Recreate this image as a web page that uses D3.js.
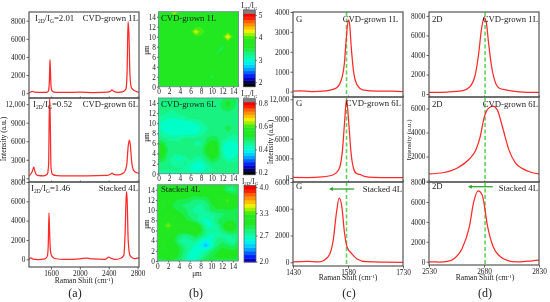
<!DOCTYPE html>
<html>
<head>
<meta charset="UTF-8">
<title>Raman spectra</title>
<script src="https://d3js.org/d3.v7.min.js"></script>
<style>
    html, body { margin: 0; padding: 0; background: #fff; }
    svg { display: block; font-family: "Liberation Serif", serif; filter: blur(0.3px); }
    text { fill: #222; }
    .axis path { display: none; }
    .axis line { stroke: #444; stroke-width: 0.8; }
    .axis text { font-size: 7.3px; fill: #222; font-family: "Liberation Serif", serif; }
</style>
</head>
<body>
<svg id="fig" width="550" height="302"></svg>
<script>
// panel (a), full spectra
const fullShift1 = [1295,1320,1340,1370,1450,1540,1565,1578,1586,1592,1600,1612,1640,1750,2000,2200,2380,2425,2445,2470,2530,2600,2640,2655,2668,2680,2695,2715,2760,2800,2820];
const fullInt1 = [60,130,200,110,80,90,260,1500,3700,2600,800,280,120,80,110,70,120,220,360,200,100,180,500,2400,7900,6600,2000,600,260,130,90];
const fullShift2 = [1295,1320,1340,1360,1380,1410,1500,1550,1568,1574,1582,1590,1600,1620,1680,1800,2100,2380,2430,2445,2470,2530,2610,2650,2670,2686,2700,2720,2750,2790,2820];
const fullInt2 = [350,700,1100,1800,1000,500,420,700,2500,9000,13000,9000,1800,650,450,420,420,500,720,850,650,550,900,2200,5200,6200,5400,2500,1200,900,800];
const fullShift3 = [1295,1320,1350,1420,1520,1550,1562,1572,1580,1592,1610,1650,1800,2000,2100,2180,2350,2400,2430,2480,2560,2610,2628,2645,2655,2670,2695,2750,2800,2820];
const fullInt3 = [-20,150,20,-30,40,350,1500,4800,3000,900,350,80,-20,50,120,30,0,220,120,-10,80,400,2800,7000,6300,2000,400,60,120,160];

// panel (c), G band
const gShift1 = [1430,1450,1480,1520,1545,1560,1570,1575,1581,1584,1589,1596,1606,1620,1660,1700,1730];
const gInt1 = [30,40,0,40,150,500,1400,2600,3600,3450,2200,900,300,90,20,30,0];
const gShift2 = [1430,1470,1510,1540,1555,1565,1570,1576,1582,1588,1595,1603,1612,1625,1650,1690,1730];
const gInt2 = [100,80,180,500,1300,4300,8000,12000,8500,4000,1500,700,560,260,100,60,70];
const gShift3 = [1430,1470,1500,1515,1530,1540,1548,1556,1563,1570,1578,1590,1605,1630,1680,1730];
const gInt3 = [20,60,30,150,600,1700,3600,4800,4200,2300,1100,650,250,40,10,0];

// panel (d), 2D band
const dShift1 = [2530,2580,2620,2640,2655,2665,2673,2680,2686,2692,2700,2710,2722,2740,2770,2800,2830];
const dInt1 = [170,210,320,700,1800,4000,6600,7800,7400,5400,3000,1300,600,420,250,170,170];
const dShift2 = [2530,2570,2610,2640,2658,2670,2680,2692,2704,2716,2730,2748,2765,2785,2810,2830];
const dInt2 = [560,680,1100,1800,2560,3700,5200,6000,6200,5900,4500,2560,1500,1000,680,560];
const dShift3 = [2530,2560,2580,2600,2620,2640,2652,2664,2675,2690,2705,2725,2742,2770,2800,2830];
const dInt3 = [-20,-30,30,350,1300,3500,6000,7100,6700,3500,1500,500,150,-20,60,170];

// shared y ticks
const yTicksA1 = [0, 2000, 4000, 6000, 8000];
const yTicksMid = [0, 3000, 6000, 9000, 12000];
const yTicksA3 = [0, 2000, 4000, 6000, 8000];
const yTicksC1 = [0, 1000, 2000, 3000, 4000];
const yTicksC3 = [0, 2000, 4000, 6000];
const yTicksD2 = [0, 2000, 4000, 6000];
const xTicksA = [1600, 2000, 2400, 2800];
const xTicksC = [1430, 1580, 1730];
const xTicksD = [2530, 2680, 2830];
const mapTicks = [0, 2, 4, 6, 8, 10, 12, 14];

// panel (b), ratio maps, rows from y=15 to y=0, values x100
const map1 = [
    [390,390,392,425,392,390,390,390,390,390,390,390,390,390,390,390],
    [390,390,390,392,390,390,390,390,390,390,390,390,390,390,382,390],
    [390,390,390,390,390,390,390,390,390,390,390,390,390,390,390,390],
    [390,390,390,390,390,390,390,392,392,390,390,390,390,390,390,390],
    [390,390,390,390,390,390,392,428,400,390,390,390,390,392,390,390],
    [390,390,390,390,390,390,390,391,391,390,390,390,392,438,394,390],
    [390,390,390,390,390,390,390,390,390,390,390,390,390,392,390,390],
    [390,390,390,390,390,390,390,390,390,390,390,382,340,380,390,390],
    [390,390,390,390,390,390,390,390,390,390,390,350,355,385,390,390],
    [390,390,390,390,390,390,390,390,390,390,386,350,375,390,390,390],
    [390,390,390,390,390,390,390,390,390,390,388,368,388,390,390,390],
    [390,390,390,386,390,390,390,390,390,390,390,390,390,390,390,390],
    [390,390,390,390,390,390,390,390,390,384,372,382,390,390,390,390],
    [390,390,390,390,390,390,390,390,390,374,335,374,390,390,390,390],
    [390,390,365,386,390,390,390,390,390,386,382,386,390,390,390,390],
    [390,390,390,390,390,390,390,390,390,390,390,390,390,390,390,390]
];
const map2 = [
    [46,46,46,46,46,46,46,46,46,46,46,46,47,50,50,47],
    [46,46,46,46,46,46,46,46,46,46,46,46,50,52,50,47],
    [46,46,46,46,46,46,46,46,46,46,46,46,49,51,49,46],
    [46,46,45,45,46,46,46,46,46,46,46,46,47,47,46,46],
    [45,44,43,43,44,45,46,46,46,46,46,46,46,46,46,46],
    [44,41,40,40,40,40,41,43,45,46,46,46,46,47,46,46],
    [44,41,40,40,40,40,40,41,43,45,46,46,47,51,47,46],
    [45,43,42,41,41,41,41,42,44,46,47,47,47,47,46,46],
    [47,46,45,45,45,46,46,46,46,48,50,49,46,45,44,45],
    [52,50,46,46,46,46,46,45,45,50,53,52,44,41,41,43],
    [55,53,47,46,46,46,46,46,47,52,55,53,43,40,40,42],
    [55,53,46,46,46,46,46,46,47,51,55,53,44,40,40,43],
    [53,50,46,43,42,45,46,45,45,48,52,50,46,42,43,45],
    [47,47,46,44,44,46,44,41,41,45,48,47,46,46,46,46],
    [46,46,46,46,46,45,42,40,40,43,45,46,46,46,46,46],
    [45,44,43,44,45,46,45,44,44,46,46,46,46,46,46,46]
];
const map3 = [
    [300,300,305,305,305,305,305,305,310,315,320,315,305,295,290,295],
    [300,295,300,305,305,310,310,310,310,305,310,310,300,285,280,290],
    [300,305,305,310,310,305,305,300,305,300,300,300,305,305,300,295],
    [310,310,305,300,295,295,290,285,285,290,300,305,320,330,320,305],
    [315,315,305,295,290,285,285,280,275,280,295,305,315,325,315,300],
    [310,310,305,300,295,290,285,270,270,280,290,295,290,295,295,290],
    [305,305,310,310,305,295,285,280,275,270,270,280,285,290,290,290],
    [310,315,320,310,305,300,295,285,270,265,270,285,295,295,295,290],
    [315,320,340,320,310,310,305,310,295,270,265,275,295,315,315,290],
    [310,315,322,310,305,310,315,320,300,280,270,270,285,300,300,290],
    [305,310,310,305,290,280,285,300,290,275,265,270,275,275,280,285],
    [310,310,305,300,280,270,275,280,265,255,265,280,285,275,270,285],
    [310,310,305,305,295,280,270,265,255,240,258,285,295,290,285,295],
    [310,310,305,305,300,285,270,265,265,270,285,295,300,300,300,300],
    [300,300,305,305,295,280,260,260,270,285,295,300,300,300,300,300],
    [295,295,295,295,290,280,265,270,285,295,300,295,295,295,295,295]
];

// colour bar, low to high
const palette = ["#000000","#000050","#0000c0","#0020ff","#0060ff","#00a0ff","#00d0ff","#00f0f0","#00ffc8","#10f8a0","#18f280","#18ee50",
    "#20e820","#22e822","#22e822","#48ec10","#a0f000","#f0f000","#ffc000","#ff9000","#ff6000","#ff2000","#f00000","#808080"];
const barTicks1 = [2, 3, 4, 5];
const barTicks2 = [0.2, 0.4, 0.6, 0.8];
const barTicks3 = [2.0, 2.7, 3.3, 4.0];

const svg = d3.select("#fig");
const red = "#ff2a2a";
const green = "#5fd35f";
const frameColor = "#555";
let clipCount = 0;

function addClip(x, y, w, h) {
    const id = "clip" + (clipCount++);
    svg.append("clipPath").attr("id", id).append("rect")
        .attr("x", x).attr("y", y).attr("width", w).attr("height", h);
    return id;
}

function label(txt, x, y, size, anchor) {
    return svg.append("text").attr("x", x).attr("y", y)
        .attr("font-size", size).attr("text-anchor", anchor || "start").text(txt);
}

function ratioLabel(value, x, y, size) {
    const t = svg.append("text").attr("x", x).attr("y", y).attr("font-size", size);
    t.append("tspan").text("I");
    t.append("tspan").attr("dy", size * 0.25).attr("font-size", size * 0.62).text("2D");
    t.append("tspan").attr("dy", -size * 0.25).text("/I");
    t.append("tspan").attr("dy", size * 0.25).attr("font-size", size * 0.62).text("G");
    t.append("tspan").attr("dy", -size * 0.25).text(value);
}

function ramanLabel(x, y) {
    const t = svg.append("text").attr("x", x).attr("y", y).attr("font-size", 7.6).attr("text-anchor", "middle");
    t.append("tspan").text("Raman Shift (cm");
    t.append("tspan").attr("dy", -2.5).attr("font-size", 5).text("-1");
    t.append("tspan").attr("dy", 2.5).text(")");
}

function yLabel(x, y, txt, size) {
    svg.append("text").attr("transform", `translate(${x},${y}) rotate(-90)`)
        .attr("font-size", size || 7.6).attr("text-anchor", "middle").text(txt);
}

function spectrum(p) {
    const x = d3.scaleLinear().domain(p.xDomain).range([p.left, p.right]);
    const y = d3.scaleLinear().domain(p.yDomain).range([p.bottom, p.top]);
    const clip = addClip(p.left, p.top, p.right - p.left, p.bottom - p.top);

    if (p.marker != null) {
        svg.append("line")
            .attr("x1", x(p.marker)).attr("x2", x(p.marker))
            .attr("y1", p.top).attr("y2", p.bottom)
            .attr("stroke", green).attr("stroke-width", 1.6).attr("stroke-dasharray", "4,2.5");
    }

    const line = d3.line().x(d => x(d[0])).y(d => y(d[1])).curve(d3.curveMonotoneX);
    svg.append("path").datum(d3.zip(p.shift, p.values))
        .attr("clip-path", `url(#${clip})`)
        .attr("fill", "none").attr("stroke", red).attr("stroke-width", 1.25)
        .attr("d", line);

    svg.append("rect")
        .attr("x", p.left).attr("y", p.top)
        .attr("width", p.right - p.left).attr("height", p.bottom - p.top)
        .attr("fill", "none").attr("stroke", frameColor).attr("stroke-width", 1.2);

    svg.append("g").attr("class", "axis").attr("transform", `translate(${p.left},0)`)
        .call(d3.axisLeft(y).tickValues(p.yTicks).tickSize(2.5).tickPadding(1)
            .tickFormat(d => d >= 10000 ? d3.format(",")(d) : d));

    const xAxis = d3.axisBottom(x).tickValues(p.xTicks).tickSize(p.xLabels ? 2.5 : -1.5).tickPadding(1.5)
        .tickFormat(d3.format("d"));
    if (!p.xLabels) xAxis.tickFormat("");
    svg.append("g").attr("class", "axis").attr("transform", `translate(0,${p.bottom})`).call(xAxis);

    if (p.arrow) {
        const ay = p.arrow[2];
        svg.append("line").attr("x1", x(p.arrow[0])).attr("x2", x(p.arrow[1]) + 3)
            .attr("y1", ay).attr("y2", ay).attr("stroke", "#2fa52f").attr("stroke-width", 1.3);
        svg.append("path")
            .attr("d", d3.line()([[x(p.arrow[1]), ay], [x(p.arrow[1]) + 4, ay - 2], [x(p.arrow[1]) + 4, ay + 2]]))
            .attr("fill", "#2fa52f");
    }
}

function heatmap(m) {
    const x = d3.scaleLinear().domain([0, 15]).range([m.left, m.right]);
    const y = d3.scaleLinear().domain([0, 15]).range([m.bottom, m.top]);
    const values = m.rows.flat().map(d => d / m.unit);
    const colors = palette.slice(m.from, m.to);
    const bands = d3.range(colors.length).map(i => m.vmin + (m.vmax - m.vmin) * i / colors.length);
    bands[0] = -1000;

    const contours = d3.contours().size([16, 16]).thresholds(bands)(values);
    const project = d3.geoTransform({
        point: function(gx, gy) { this.stream.point(x(gx - 0.5), y(15 - (gy - 0.5))); }
    });
    const path = d3.geoPath(project);
    const clip = addClip(m.left, m.top, m.right - m.left, m.bottom - m.top);
    svg.append("g").attr("clip-path", `url(#${clip})`)
        .append("g").style("filter", "blur(0.7px)")
        .selectAll("path")
        .data(contours).join("path")
        .attr("d", path)
        .attr("fill", (d, i) => colors[i]);

    svg.append("rect")
        .attr("x", m.left).attr("y", m.top)
        .attr("width", m.right - m.left).attr("height", m.bottom - m.top)
        .attr("fill", "none").attr("stroke", "#6f9494").attr("stroke-width", 1);

    const ax = d3.axisBottom(x).tickValues(mapTicks).tickSize(1.5).tickPadding(1);
    const ay = d3.axisLeft(y).tickValues(mapTicks).tickSize(1.5).tickPadding(1);
    svg.append("g").attr("class", "axis").attr("transform", `translate(0,${m.bottom})`).call(ax);
    svg.append("g").attr("class", "axis").attr("transform", `translate(${m.left},0)`).call(ay);

    // colour bar
    const by = d3.scaleLinear().domain([m.vmin, m.vmax]).range([m.barBottom, m.barTop]);
    const step = (m.vmax - m.vmin) / colors.length;
    svg.append("g").selectAll("rect")
        .data(colors).join("rect")
        .attr("x", m.barX).attr("width", 12)
        .attr("y", (d, i) => by(m.vmin + step * (i + 1)))
        .attr("height", (m.barBottom - m.barTop) / colors.length + 0.4)
        .attr("fill", d => d);
    svg.append("rect").attr("x", m.barX).attr("y", m.barTop).attr("width", 12)
        .attr("height", m.barBottom - m.barTop)
        .attr("fill", "none").attr("stroke", "#555").attr("stroke-width", 0.7);
    svg.append("g").attr("class", "axis").attr("transform", `translate(${m.barX + 12},0)`)
        .call(d3.axisRight(by).tickValues(m.barTicks).tickSize(1.5).tickPadding(2)
            .tickFormat(m.barFormat));

    const t = svg.append("text").attr("x", m.barX + 6).attr("y", m.titleY).attr("font-size", 7.3).attr("text-anchor", "middle");
    t.append("tspan").text("I");
    t.append("tspan").attr("dy", 1.8).attr("font-size", 4.8).text("2D");
    t.append("tspan").attr("dy", -1.8).text("/I");
    t.append("tspan").attr("dy", 1.8).attr("font-size", 4.8).text("G");
}

// (a)
const aX = [1295, 2820];
spectrum({ left: 29, right: 139, top: 12, bottom: 98, xDomain: aX, yDomain: [-530, 8960], shift: fullShift1, values: fullInt1, yTicks: yTicksA1, xTicks: xTicksA });
spectrum({ left: 29, right: 139, top: 98, bottom: 182, xDomain: aX, yDomain: [-590, 13000], shift: fullShift2, values: fullInt2, yTicks: yTicksMid, xTicks: xTicksA });
spectrum({ left: 29, right: 139, top: 182, bottom: 267, xDomain: aX, yDomain: [-800, 8000], shift: fullShift3, values: fullInt3, yTicks: yTicksA3, xTicks: xTicksA, xLabels: true });
ratioLabel("=2.01", 35, 21, 8.8);
ratioLabel("=0.52", 33, 107, 8.8);
ratioLabel("=1.46", 31, 191, 8.8);
label("CVD-grown 1L", 138, 21, 8.7, "end");
label("CVD-grown 6L", 138, 107, 8.7, "end");
label("Stacked 4L", 138, 191, 8.7, "end");
yLabel(6, 139, "Intensity (a.u.)");
ramanLabel(84, 283);
label("(a)", 75, 297, 12, "middle");

// (b)
heatmap({ left: 158.5, right: 238.5, top: 11.7, bottom: 86.7, rows: map1, unit: 100, vmin: 1.8, vmax: 5.22, from: 0, to: 24, barX: 243.3, barTop: 10, barBottom: 86.7, barTicks: barTicks1, barFormat: d3.format("d"), titleY: 8 });
heatmap({ left: 158.5, right: 238.5, top: 98, bottom: 173.7, rows: map2, unit: 100, vmin: 0.18, vmax: 0.84, from: 0, to: 24, barX: 243.3, barTop: 98.7, barBottom: 174.7, barTicks: barTicks2, barFormat: d3.format(".1f"), titleY: 96 });
heatmap({ left: 157.3, right: 238.3, top: 184.7, bottom: 261, rows: map3, unit: 100, vmin: 1.99, vmax: 4.05, from: 2, to: 23, barX: 244, barTop: 185.3, barBottom: 262, barTicks: barTicks3, barFormat: d3.format(".1f"), titleY: 183.5 });
label("CVD-grown 1L", 161, 21, 8.7);
label("CVD-grown 6L", 161, 107, 8.7);
label("Stacked 4L", 161, 192, 8.7);
yLabel(148.5, 50, "μm", 7.3);
yLabel(148.5, 137, "μm", 7.3);
yLabel(148.5, 224, "μm", 7.3);
label("μm", 197, 276, 7.3, "middle");
label("(b)", 196, 297, 12, "middle");

// (c)
const cX = [1430, 1730];
spectrum({ left: 293, right: 403, top: 12, bottom: 97, xDomain: cX, yDomain: [-270, 4000], shift: gShift1, values: gInt1, yTicks: yTicksC1, xTicks: xTicksC, marker: 1576 });
spectrum({ left: 293, right: 403, top: 97, bottom: 182, xDomain: cX, yDomain: [-600, 12350], shift: gShift2, values: gInt2, yTicks: yTicksMid, xTicks: xTicksC, marker: 1576 });
spectrum({ left: 293, right: 403, top: 182, bottom: 266, xDomain: cX, yDomain: [-280, 6000], shift: gShift3, values: gInt3, yTicks: yTicksC3, xTicks: xTicksC, xLabels: true, marker: 1576, arrow: [1597, 1528, 189] });
label("G", 296, 22, 8.7);
label("G", 296, 106, 8.7);
label("G", 296, 189, 8.7);
label("CVD-grown 1L", 398, 22, 8.7, "end");
label("CVD-grown 6L", 401, 106, 8.7, "end");
label("Stacked 4L", 402, 192, 8.7, "end");
yLabel(273, 142, "Intensity (a.u.)");
ramanLabel(348, 280);
label("(c)", 349, 297, 12, "middle");

// (d)
const dX = [2530, 2830];
spectrum({ left: 429, right: 539, top: 12, bottom: 97, xDomain: dX, yDomain: [-300, 8400], shift: dShift1, values: dInt1, yTicks: yTicksA1, xTicks: xTicksD, marker: 2683 });
spectrum({ left: 429, right: 539, top: 97, bottom: 182, xDomain: dX, yDomain: [-110, 6950], shift: dShift2, values: dInt2, yTicks: yTicksD2, xTicks: xTicksD, marker: 2683 });
spectrum({ left: 429, right: 539, top: 182, bottom: 265, xDomain: dX, yDomain: [-330, 8000], shift: dShift3, values: dInt3, yTicks: yTicksA3, xTicks: xTicksD, xLabels: true, marker: 2683, arrow: [2704, 2636, 186.7] });
label("2D", 432, 22, 8.7);
label("2D", 432, 107, 8.7);
label("2D", 432, 189, 8.7);
label("CVD-grown 1L", 538, 22, 8.7, "end");
label("CVD-grown 6L", 538, 107, 8.7, "end");
label("Stacked 4L", 538, 191, 8.7, "end");
yLabel(411, 140, "Intensity (a.u.)", 7);
ramanLabel(485, 280);
label("(d)", 485, 297, 12, "middle");
</script>
</body>
</html>
